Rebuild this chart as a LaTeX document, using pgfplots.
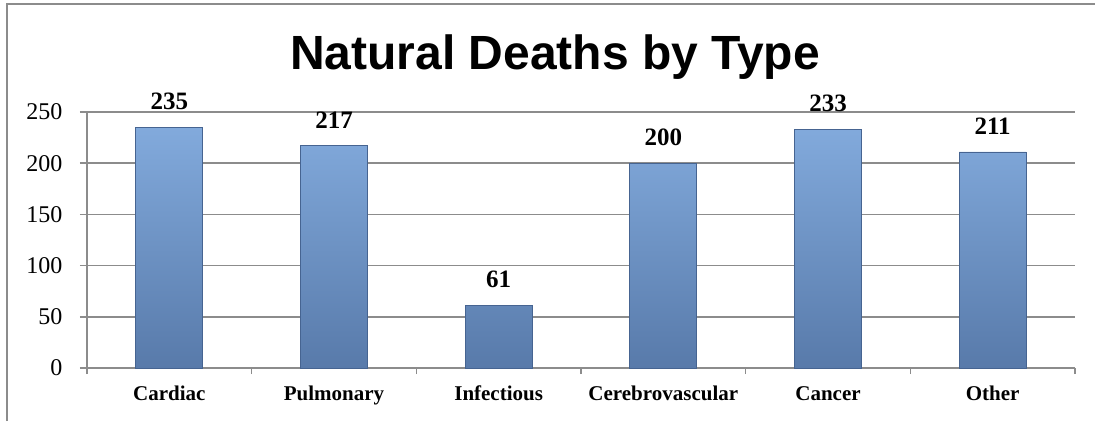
\documentclass[border=0pt]{standalone}
\usepackage{pgfplots}
\pgfplotsset{compat=1.18}
\usepackage{fontspec}
\setmainfont{Liberation Serif}
\newfontfamily\arialfont{Liberation Sans}
\definecolor{gridgray}{RGB}{140,140,140}
\definecolor{bartop}{RGB}{130,170,220}
\definecolor{barbot}{RGB}{88,122,170}
\definecolor{baredge}{RGB}{70,100,145}
\pgfplotstableread{
x y
0 235
1 217
2 61
3 200
4 233
5 211
}\deaths
\begin{document}
\begin{tikzpicture}[x=1pt,y=1pt]
\path[use as bounding box] (0,0) rectangle (1095,421);
\draw[gridgray,line width=1.5pt] (7,0) -- (7,417) -- (1095,417);
\node[font=\arialfont\bfseries\fontsize{48}{52}\selectfont,anchor=base] at (555,351) {Natural Deaths by Type};
\begin{axis}[
  at={(87pt,53pt)}, anchor=south west,
  scale only axis, width=988pt, height=256pt,
  xmin=-0.5, xmax=5.5, ymin=0, ymax=250,
  ytick={0,50,100,150,200,250},
  xtick={0,1,2,3,4,5},
  xticklabels={Cardiac,Pulmonary,Infectious,Cerebrovascular,Cancer,Other},
  minor xtick={-0.5,0.5,1.5,2.5,3.5,4.5,5.5},
  major x tick style={draw=none},
  tick align=outside, tick pos=left,
  major tick length=7pt, minor tick length=6pt,
  every tick/.style={gridgray,line width=1.5pt},
  ymajorgrids, grid style={gridgray,line width=1.5pt},
  axis x line*=bottom, axis y line*=left,
  axis line style={gridgray,line width=1.5pt},
  ticklabel style={font=\fontsize{24}{26}\selectfont},
  yticklabel style={xshift=-14pt},
  xticklabel style={font=\bfseries\fontsize{21}{23}\selectfont, text height=14pt, text depth=5pt, yshift=-8pt},
  /pgf/number format/assume math mode=true,
  ybar, bar width=67pt,
  nodes near coords,
  every node near coord/.append style={font=\bfseries\fontsize{25}{27}\selectfont, yshift=14pt, black},
  clip=false,
]
\addplot[draw=baredge, line width=0.8pt, top color=bartop, bottom color=barbot] table[x=x,y=y]{\deaths};
\end{axis}
\end{tikzpicture}
\end{document}
